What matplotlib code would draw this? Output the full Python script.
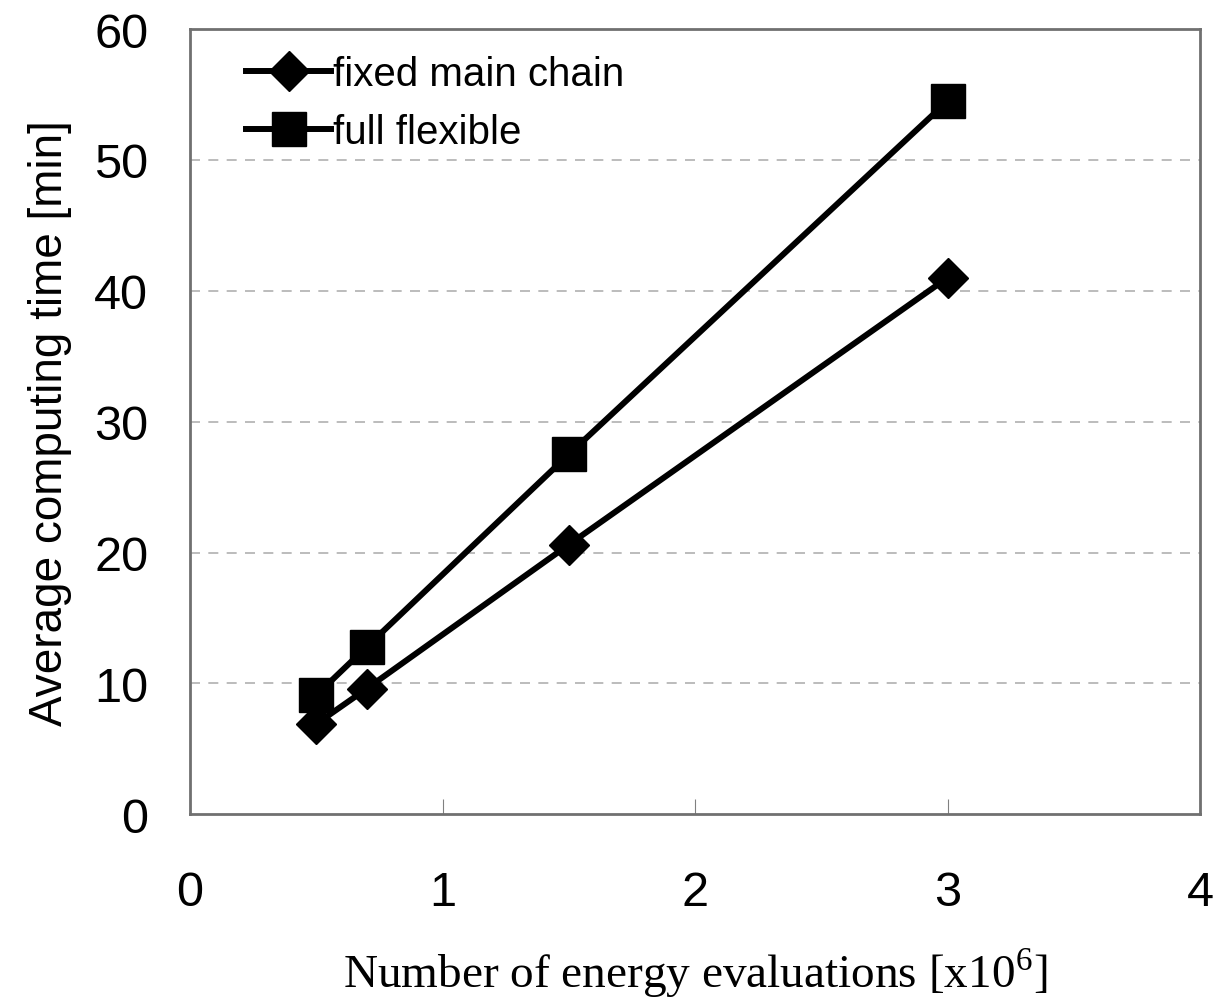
import matplotlib
matplotlib.use('Agg')
from matplotlib import pyplot as plt

matplotlib.rcParams['mathtext.fontset'] = 'custom'
matplotlib.rcParams['mathtext.rm'] = 'Liberation Serif'

# data
evals = [0.5, 0.7, 1.5, 3.0]
fixed_main_chain = [6.9, 9.6, 20.6, 41.0]
full_flexible = [9.1, 12.8, 27.5, 54.5]

sans = ['Liberation Sans', 'DejaVu Sans']
serif = ['Liberation Serif', 'DejaVu Serif']

fig = plt.figure(figsize=(12.14, 10.04), dpi=100)
ax = fig.add_axes([0.1565, 0.188, 0.832, 0.782])

ax.plot(evals, fixed_main_chain, color='black', lw=4.3, marker='D',
        markersize=20, label='fixed main chain', zorder=3)
ax.plot(evals, full_flexible, color='black', lw=4.3, marker='s',
        markersize=25, label='full flexible', zorder=3)

ax.set_xlim(0, 4)
ax.set_ylim(0, 60)
ax.set_xticks([0, 1, 2, 3, 4])
ax.set_yticks([0, 10, 20, 30, 40, 50, 60])

# dashed grid
for yv in [10, 20, 30, 40, 50]:
    ax.axhline(yv, color='#b0b0b0', lw=1.2, ls=(0, (6, 5)), zorder=1)

for s in ax.spines.values():
    s.set_color('#707070')
    s.set_linewidth(2)

ax.tick_params(axis='x', direction='in', length=11, width=0.8, color='#808080', pad=40)
ax.tick_params(axis='y', length=0, pad=30)
for lab in ax.get_xticklabels() + ax.get_yticklabels():
    lab.set_family(sans)
    lab.set_fontsize(35)

ax.set_ylabel('Average computing time [min]', family=sans, fontsize=33, labelpad=16)
ax.set_xlabel(r'Number of energy evaluations [x10$^{\mathrm{6}}$]', family=serif,
              fontsize=34, labelpad=22)

leg = ax.legend(loc='upper left', frameon=False, prop={'family': sans, 'size': 29},
                handlelength=2.1, handletextpad=0.05, borderaxespad=0.25,
                labelspacing=0.5, bbox_to_anchor=(0.03, 1.0))

fig.savefig('out.png', dpi=100)
